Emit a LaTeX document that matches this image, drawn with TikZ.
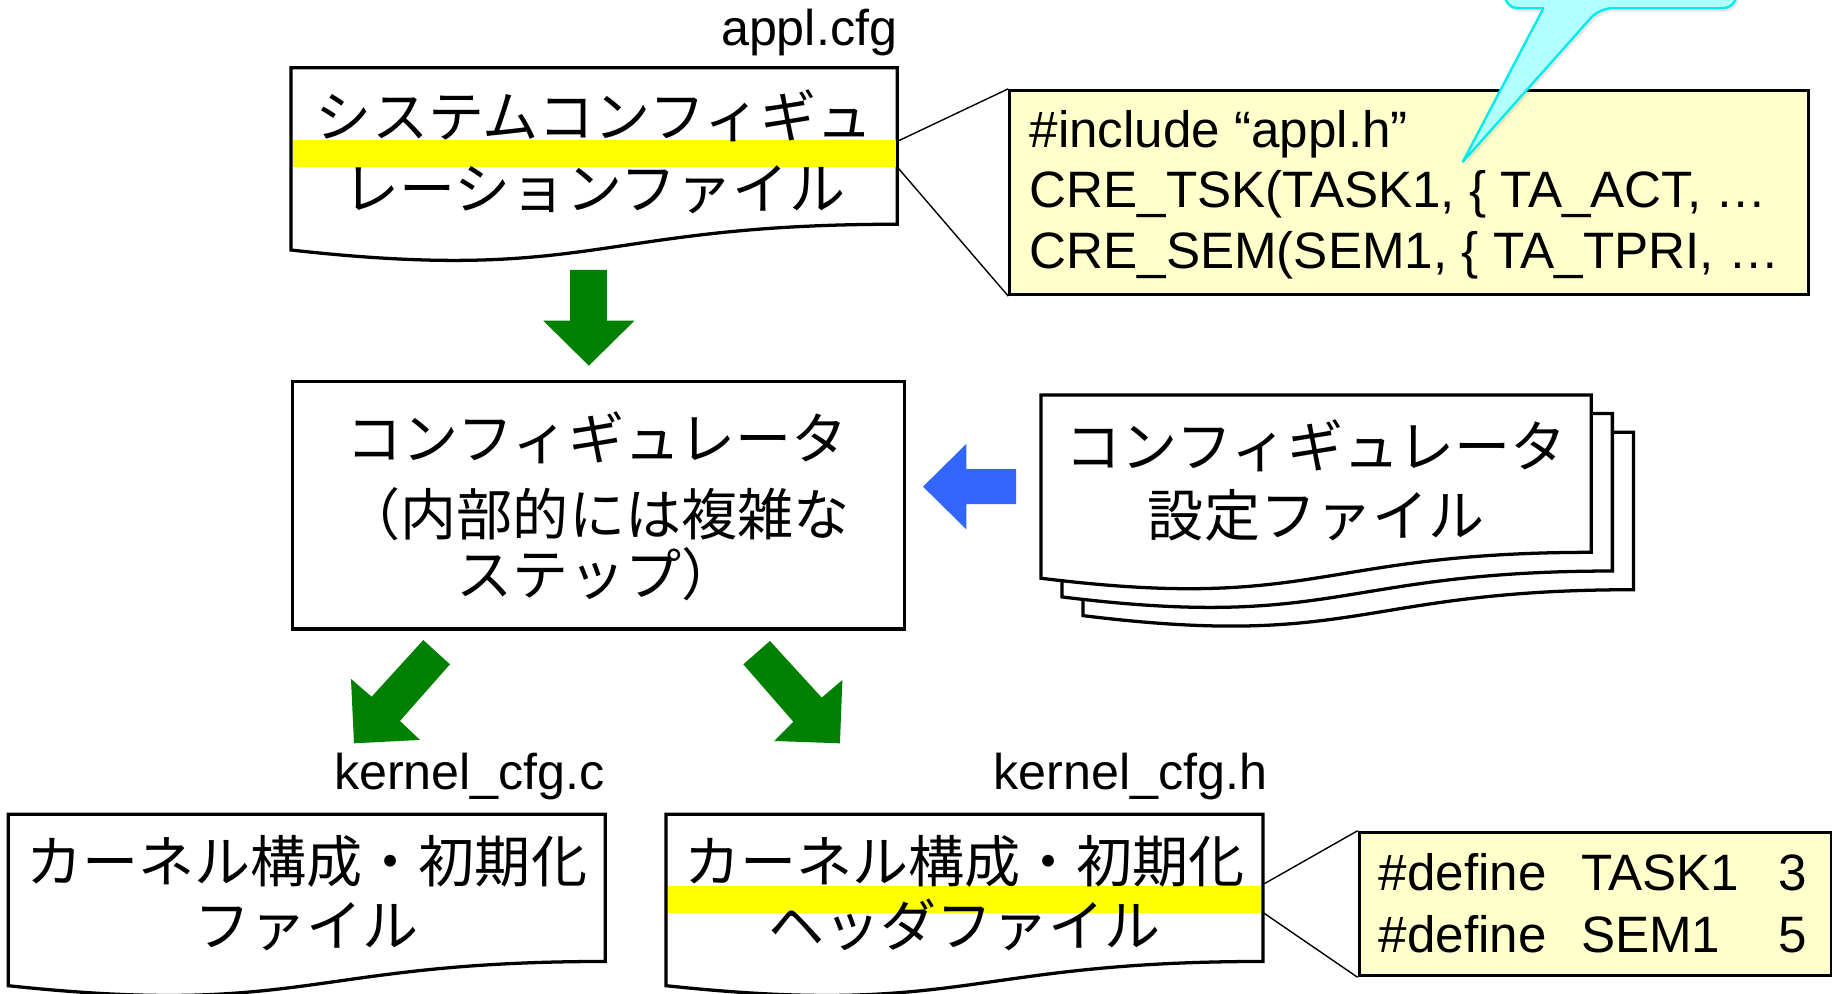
\documentclass[tikz,border=0pt]{standalone}
\usepackage{fontspec}
\setmainfont{Liberation Sans}
\newfontfamily\jpfont{Noto Sans CJK JP}
\usetikzlibrary{shadows}

\definecolor{arrowgreen}{RGB}{0,128,0}
\definecolor{arrowblue}{RGB}{51,102,255}
\definecolor{codefill}{RGB}{255,255,204}
\definecolor{bandyellow}{RGB}{255,255,0}
\definecolor{tipfill}{RGB}{178,255,255}
\definecolor{tipline}{RGB}{0,235,235}

\tikzset{
  sheet/.style={draw=black, fill=white, line width=2.8pt, line join=miter},
  band/.style={fill=bandyellow},
  jp/.style={font=\jpfont\fontsize{48}{56}\selectfont, inner sep=0pt, anchor=base},
  lat/.style={font=\fontsize{43}{51}\selectfont, inner sep=0pt},
  code/.style={font=\fontsize{43.8}{52}\selectfont, inner sep=0pt, anchor=base west},
  codebox/.style={draw=black, fill=codefill, line width=2.5pt, inner sep=0pt, anchor=north west},
  procbox/.style={draw=black, fill=white, line width=2.8pt, inner sep=0pt, anchor=north west},
  leader/.style={draw=black, line width=1.2pt},
  greenarrow/.style={fill=arrowgreen},
  bluearrow/.style={fill=arrowblue},
  balloon/.style={fill=tipfill, draw=tipline, line width=2pt, line join=round,
    drop shadow={opacity=0.18, shadow xshift=2pt, shadow yshift=-3pt}},
}

% document sheet with a wavy lower edge: name, left, top, width, height
\newcommand\docsheet[5]{%
  \path[sheet] (#2,#3) -- ({#2+#4},#3) -- ({#2+#4},{#3+0.802*#5})
    .. controls ({#2+0.5*#4},{#3+0.802*#5}) and ({#2+0.5*#4},{#3+1.1075*#5}) .. (#2,{#3+0.934*#5}) -- cycle;
  \coordinate (#1) at ({#2+0.5*#4},{#3+0.4*#5});
}

\begin{document}
\begin{tikzpicture}[x=1pt,y=-1pt]
\useasboundingbox (0,0) rectangle (1568,850);
\clip (0,0) rectangle (1568,850);

% ---- system configuration file ----
\node[lat, anchor=base east] (cfgname) at (768,39) {appl.cfg};
\docsheet{sysdoc}{249}{58}{519}{167}
\fill[band] (250.4,120) rectangle (766.6,143);
\node[jp] (sysA) at (508.5,118) {システムコンフィギュ};
\node[jp] (sysB) at (508.5,179) {レーションファイル};
\coordinate (sysR1) at (768,121);
\coordinate (sysR2) at (768,143);

% ---- its contents ----
\node[codebox, minimum width=684pt, minimum height=175pt] (code) at (863,76) {};
\draw[leader] (sysR1) -- (code.north west);
\draw[leader] (sysR2) -- (code.south west);
\node[code] (codeA) at (881,126) {\#include “appl.h”};
\node[code] (codeB) at (881,178) {CRE\_TSK(TASK1, \{ TA\_ACT, …};
\node[code] (codeC) at (881,230) {CRE\_SEM(SEM1, \{ TA\_TPRI, …};

% ---- balloon pointing into the code ----
\path[balloon] (1252,138.5) -- (1321,7) [rounded corners=11pt] -- (1288,7) -- (1288,-40)
  -- (1486,-40) -- (1486,7) -- (1369,7) [sharp corners] -- cycle;

% ---- arrow into the configurator ----
\fill[greenarrow] (488,231) -- (519.5,231) -- (519.5,274.5) -- (543,274.5) -- (504,313)
  -- (465,274.5) -- (488,274.5) -- cycle;

% ---- configurator ----
\node[procbox, minimum width=524pt, minimum height=212pt] (conf) at (249,325) {};
\node[jp] (confA) at (511,393) {コンフィギュレータ};
\node[jp] (confB) at (511,458) {（内部的には複雑な};
\node[jp] (confC) at (511,510) {ステップ）};

% ---- configurator settings files ----
\docsheet{setdocC}{927}{370}{471}{168}
\docsheet{setdocB}{909}{354}{471}{168}
\docsheet{setdocA}{891}{338}{471}{168}
\node[jp] (setA) at (1126.5,400) {コンフィギュレータ};
\node[jp] (setB) at (1126.5,459) {設定ファイル};

\fill[bluearrow] (869.6,401.5) -- (827,401.5) -- (827,380) -- (790,416.5) -- (827,453)
  -- (827,431.5) -- (869.6,431.5) -- cycle;

% ---- arrows to the generated files ----
\fill[greenarrow] (362.3,547.8) -- (385.1,568.6) -- (342.3,617.1) -- (359.5,633.3)
  -- (303,636.2) -- (300.4,581.1) -- (318.1,596.3) -- cycle;
\fill[greenarrow] (659,548.6) -- (636.2,568.6) -- (679,617.7) -- (662.7,634.2)
  -- (718.9,636.2) -- (721,582) -- (703.3,597.1) -- cycle;

% ---- kernel_cfg.c ----
\node[lat, anchor=base east] (cname) at (518,676) {kernel\_cfg.c};
\docsheet{cdoc}{7}{697}{511}{157}
\node[jp] (cA) at (262.5,755) {カーネル構成・初期化};
\node[jp] (cB) at (262.5,810) {ファイル};

% ---- kernel_cfg.h ----
\node[lat, anchor=base east] (hname) at (1085,676) {kernel\_cfg.h};
\docsheet{hdoc}{570}{697}{511}{157}
\fill[band] (571.4,758) rectangle (1079.6,781);
\node[jp] (hA) at (825.5,755) {カーネル構成・初期化};
\node[jp] (hB) at (825.5,810) {ヘッダファイル};
\coordinate (hR1) at (1081,757);
\coordinate (hR2) at (1081,781);

% ---- its contents ----
\node[codebox, minimum width=404pt, minimum height=123pt] (defs) at (1162,711) {};
\draw[leader] (hR1) -- (defs.north west);
\draw[leader] (hR2) -- (defs.south west);
\node[code] (defA1) at (1180,762) {\#define};
\node[code] (defA2) at (1353,762) {TASK1};
\node[code] (defA3) at (1522,762) {3};
\node[code] (defB1) at (1180,815) {\#define};
\node[code] (defB2) at (1353,815) {SEM1};
\node[code] (defB3) at (1522,815) {5};
\end{tikzpicture}
\end{document}
